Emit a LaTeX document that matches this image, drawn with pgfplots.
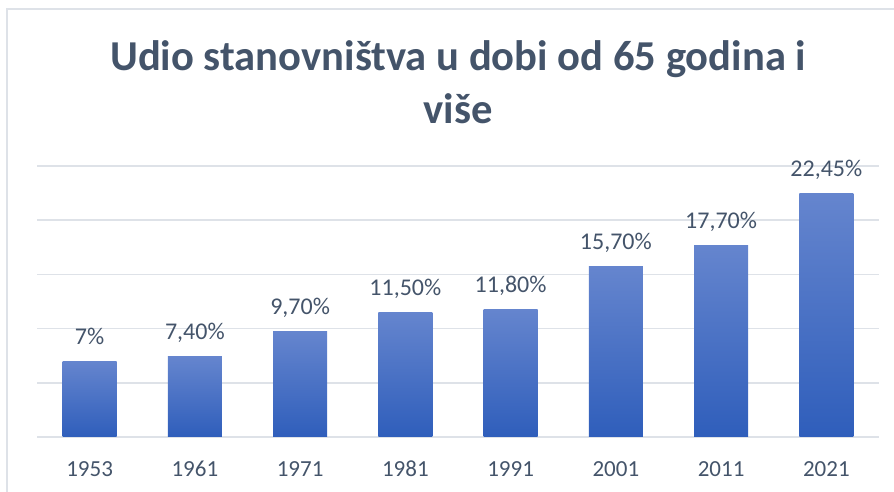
\documentclass[border=0pt]{standalone}
\usepackage{pgfplots}
\pgfplotsset{compat=1.18}
\usepackage{fontspec}
\setmainfont{Carlito}
\definecolor{titlec}{HTML}{44546A}
\definecolor{labc}{HTML}{44546A}
\definecolor{gridc}{HTML}{DEE2E8}
\definecolor{bartop}{HTML}{6585CE}
\definecolor{barbot}{HTML}{2F5EBB}
\pgfplotsset{
    onebar/.style={
        ybar, bar width=0.513, bar shift=0pt, draw=none,
        top color=bartop, bottom color=barbot,
        point meta=explicit symbolic,
        nodes near coords,
        nodes near coords style={anchor=base, yshift=17pt, font=\fontsize{24}{28}\selectfont, text=labc},
    },
}
\begin{document}
\begin{tikzpicture}
\path[use as bounding box] (-37pt,-55pt) rectangle (857pt,437pt);
\draw[gridc, line width=1.5pt] (-30pt,-60pt) -- (-30pt,428pt) -- (860pt,428pt);
\node[anchor=base, font=\bfseries\fontsize{42.6}{50}\selectfont, text=titlec] at (421pt,366pt) {Udio stanovništva u dobi od 65 godina i};
\node[anchor=base, font=\bfseries\fontsize{42.6}{50}\selectfont, text=titlec] at (421pt,313pt) {više};
\begin{axis}[
    at={(0pt,0pt)}, anchor=south west,
    scale only axis,
    width=842pt, height=271pt,
    xmin=-0.5, xmax=7.5,
    ymin=0, ymax=25,
    axis line style={draw=none},
    major tick length=0pt,
    xtick={0,...,7},
    xticklabels={1953,1961,1971,1981,1991,2001,2011,2021},
    xticklabel style={anchor=base, yshift=-40pt, font=\fontsize{23}{28}\selectfont, text=labc},
    ytick={0,5,10,15,20,25},
    yticklabels={},
    ymajorgrids,
    grid style={gridc, line width=1.5pt},
    clip=false,
]
% one plot per bar so each bar gets its own gradient
\addplot[onebar] coordinates {(0,7) [7\%]};
\addplot[onebar] coordinates {(1,7.4) [7,40\%]};
\addplot[onebar] coordinates {(2,9.7) [9,70\%]};
\addplot[onebar] coordinates {(3,11.5) [11,50\%]};
\addplot[onebar] coordinates {(4,11.8) [11,80\%]};
\addplot[onebar] coordinates {(5,15.7) [15,70\%]};
\addplot[onebar] coordinates {(6,17.7) [17,70\%]};
\addplot[onebar] coordinates {(7,22.45) [22,45\%]};
\end{axis}
\end{tikzpicture}
\end{document}
